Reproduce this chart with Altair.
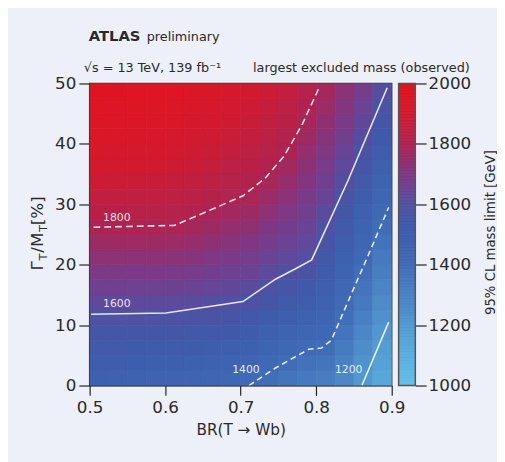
import altair as alt
import pandas as pd

# ---- heat-map cells: centres of BR columns and Gamma/M rows ----
br_centres = [0.5125, 0.5375, 0.5625, 0.5875, 0.6125, 0.6375, 0.6625, 0.6875,
              0.7125, 0.7375, 0.7625, 0.7875, 0.8125, 0.8375, 0.8625, 0.8875]
gamma_centres = [1.25, 3.75, 6.25, 8.75, 11.25, 13.75, 16.25, 18.75, 21.25, 23.75,
                 26.25, 28.75, 31.25, 33.75, 36.25, 38.75, 41.25, 43.75, 46.25, 48.75]
cell_w = 0.025
cell_h = 2.5

# mass limit [GeV] per BR column, bottom (Gamma=0) to top (Gamma=50)
m_0513 = [1484, 1511, 1539, 1566, 1594, 1627, 1662, 1697, 1731, 1766, 1801, 1829, 1857, 1886, 1910, 1929, 1949, 1963, 1974, 1985]
m_0538 = [1479, 1508, 1537, 1565, 1594, 1627, 1662, 1697, 1731, 1766, 1801, 1828, 1855, 1882, 1905, 1924, 1944, 1958, 1969, 1980]
m_0563 = [1475, 1504, 1534, 1563, 1592, 1626, 1660, 1695, 1730, 1765, 1799, 1825, 1851, 1877, 1900, 1919, 1939, 1953, 1964, 1975]
m_0588 = [1470, 1500, 1531, 1561, 1591, 1624, 1659, 1694, 1729, 1764, 1799, 1824, 1848, 1873, 1895, 1914, 1934, 1948, 1959, 1970]
m_0613 = [1466, 1497, 1528, 1559, 1590, 1624, 1658, 1693, 1727, 1762, 1797, 1821, 1845, 1868, 1890, 1909, 1929, 1943, 1954, 1965]
m_0638 = [1456, 1488, 1521, 1553, 1585, 1618, 1650, 1683, 1716, 1748, 1781, 1809, 1832, 1854, 1877, 1892, 1907, 1922, 1937, 1952]
m_0663 = [1442, 1476, 1510, 1544, 1578, 1610, 1641, 1672, 1702, 1733, 1764, 1794, 1817, 1839, 1860, 1879, 1894, 1909, 1923, 1938]
m_0688 = [1428, 1463, 1498, 1533, 1568, 1603, 1632, 1661, 1690, 1720, 1749, 1778, 1805, 1823, 1842, 1861, 1878, 1893, 1908, 1923]
m_0713 = [1412, 1448, 1484, 1519, 1553, 1588, 1619, 1648, 1677, 1705, 1735, 1764, 1792, 1812, 1828, 1843, 1859, 1875, 1891, 1907]
m_0738 = [1386, 1418, 1452, 1487, 1521, 1556, 1591, 1621, 1648, 1676, 1704, 1732, 1759, 1787, 1808, 1823, 1838, 1853, 1868, 1883]
m_0763 = [1357, 1390, 1425, 1461, 1496, 1532, 1568, 1602, 1627, 1651, 1676, 1700, 1725, 1750, 1774, 1799, 1814, 1828, 1843, 1857]
m_0788 = [1337, 1371, 1405, 1440, 1474, 1509, 1544, 1578, 1608, 1628, 1648, 1668, 1688, 1708, 1728, 1748, 1768, 1788, 1807, 1822]
m_0813 = [1323, 1358, 1393, 1421, 1447, 1474, 1500, 1526, 1552, 1579, 1604, 1623, 1643, 1662, 1682, 1702, 1721, 1741, 1760, 1780]
m_0838 = [1278, 1305, 1332, 1359, 1386, 1411, 1436, 1461, 1486, 1511, 1537, 1561, 1586, 1609, 1629, 1649, 1670, 1690, 1710, 1730]
m_0863 = [1205, 1232, 1258, 1284, 1310, 1337, 1363, 1389, 1414, 1439, 1464, 1489, 1513, 1538, 1563, 1588, 1611, 1634, 1656, 1679]
m_0888 = [1133, 1158, 1183, 1208, 1234, 1261, 1287, 1313, 1339, 1366, 1392, 1417, 1442, 1466, 1491, 1515, 1540, 1564, 1589, 1612]
mass_columns = [m_0513, m_0538, m_0563, m_0588, m_0613, m_0638, m_0663, m_0688,
                m_0713, m_0738, m_0763, m_0788, m_0813, m_0838, m_0863, m_0888]

# ---- contour lines ----
c1800_br = [0.505, 0.612, 0.659, 0.703, 0.733, 0.757, 0.781, 0.805]
c1800_g = [26.2, 26.5, 29.0, 31.4, 34.4, 37.9, 43.1, 49.6]
c1600_br = [0.502, 0.601, 0.703, 0.746, 0.772, 0.794, 0.842, 0.894]
c1600_g = [11.8, 12.0, 13.9, 17.6, 19.3, 20.8, 33.9, 49.3]
c1400_br = [0.711, 0.746, 0.790, 0.807, 0.820, 0.855, 0.8635, 0.896]
c1400_g = [0.0, 2.9, 6.0, 6.2, 7.5, 17.6, 20.0, 29.5]
c1200_br = [0.8605, 0.896]
c1200_g = [0.0, 10.5]

label_text = ["1800", "1600", "1400", "1200"]
label_br = [0.536, 0.536, 0.707, 0.843]
label_g = [27.8, 13.5, 2.6, 2.6]

# ---- colour scale ----
mass_stops = [1000, 1100, 1200, 1300, 1400, 1500, 1550, 1600, 1650, 1700, 1800, 1900, 2000]
mass_colours = ["#63c1ec", "#5aaedd", "#5399d2", "#4a82c4", "#406bb6", "#3d5fae", "#4258a8",
                "#4f51a3", "#6a4394", "#7e3885", "#ad2452", "#d11a30", "#e3131e"]
cbar_ticks = [1000, 1200, 1400, 1600, 1800, 2000]
x_ticks = [0.5, 0.6, 0.7, 0.8, 0.9]
y_ticks = [0, 10, 20, 30, 40, 50]

FONT = "DejaVu Sans"
TXT = "#2a2a2a"

rows = []
for i, c in enumerate(br_centres):
    for j, g in enumerate(gamma_centres):
        rows.append({"x0": c - cell_w / 2, "x1": c + cell_w / 2,
                     "y0": g - cell_h / 2, "y1": g + cell_h / 2,
                     "mass": mass_columns[i][j]})
cells = pd.DataFrame(rows)

cscale = alt.Scale(domain=mass_stops, range=mass_colours, interpolate="rgb")
xscale = alt.Scale(domain=[0.5, 0.9], nice=False, zero=False)
yscale = alt.Scale(domain=[0, 50], nice=False, zero=False)
xaxis = alt.Axis(values=x_ticks, format=".1f", title="BR(T → Wb)", tickSize=10,
                 labelPadding=4, labelFlush=False, titleY=50, titleBaseline="alphabetic",
                 titleFontSize=15.5, titleFontWeight="normal", grid=False)
yaxis = alt.Axis(values=y_ticks, format="d", title=None, tickSize=11, labelPadding=3, grid=False)


def X(f):
    return alt.X(f, scale=xscale, axis=xaxis)


def Y(f):
    return alt.Y(f, scale=yscale, axis=yaxis)


heat = alt.Chart(cells).mark_rect(strokeWidth=0.8, clip=True).encode(
    x=X("x0:Q"), x2="x1:Q", y=Y("y0:Q"), y2="y1:Q",
    color=alt.Color("mass:Q", scale=cscale, legend=None),
    stroke=alt.Stroke("mass:Q", scale=cscale, legend=None),
)


def contour(brs, gs, dash):
    df = pd.DataFrame({"x0": brs, "y0": gs, "o": list(range(len(brs)))})
    kw = dict(color="white", strokeWidth=1.6, opacity=0.85, clip=True)
    if dash:
        kw["strokeDash"] = dash
    return alt.Chart(df).mark_line(**kw).encode(x=X("x0:Q"), y=Y("y0:Q"), order="o:O")


lines = [
    contour(c1800_br, c1800_g, [7, 4]),
    contour(c1600_br, c1600_g, None),
    contour(c1400_br, c1400_g, [6, 4]),
    contour(c1200_br, c1200_g, None),
]

labels = alt.Chart(pd.DataFrame({"x0": label_br, "y0": label_g, "t": label_text})).mark_text(
    font=FONT, fontSize=11, color="white", opacity=0.85, align="center", baseline="middle"
).encode(x=X("x0:Q"), y=Y("y0:Q"), text="t:N")


def deco(text, x, y, size, weight="normal", angle=0, align="left"):
    return alt.Chart(pd.DataFrame({"t": [text]})).mark_text(
        font=FONT, fontSize=size, fontWeight=weight, color=TXT, align=align,
        baseline="alphabetic", angle=angle
    ).encode(x=alt.value(x), y=alt.value(y), text="t:N")


texts = [
    deco("ATLAS", -1, -43, 15, "bold"),
    deco("preliminary", 58, -43, 13),
    deco("√s = 13 TeV, 139 fb⁻¹", -6, -12, 13),
    deco("largest excluded mass (observed)", 166, -12, 13),
    # y-axis title  Γ_T / M_T [%]
    deco("Γ", -47, 190, 17, angle=270),
    deco("T", -43, 180, 11.5, angle=270),
    deco("/M", -47, 172, 17, angle=270),
    deco("T", -43, 151, 11.5, angle=270),
    deco(" [%]", -47, 144, 17, angle=270),
]

main = alt.layer(heat, *lines, labels, *texts)

levels = list(range(1000, 2000, 5))
cb_df = pd.DataFrame({"lo": levels, "hi": [v + 5 for v in levels], "mid": [v + 2.5 for v in levels]})
cb_scale = alt.Scale(domain=[1000, 2000], nice=False, zero=False)
cb_axis = alt.Axis(orient="right", offset=24, values=cbar_ticks, format="d", tickSize=11, labelPadding=2,
                   domain=False, grid=False, title="95% CL mass limit [GeV]", titleAngle=270,
                   titleFontSize=13.5, titleFontWeight="normal", titleX=80, titleY=151,
                   titleAlign="center", titleBaseline="alphabetic")
cb_fill = alt.Chart(cb_df).mark_rect(strokeWidth=0.8).encode(
    x=alt.value(314), x2=alt.value(331),
    y=alt.Y("lo:Q", scale=cb_scale, axis=cb_axis), y2="hi:Q",
    color=alt.Color("mid:Q", scale=cscale, legend=None),
    stroke=alt.Stroke("mid:Q", scale=cscale, legend=None),
)
cb_frame = alt.Chart(pd.DataFrame({"lo": [1000], "hi": [2000]})).mark_rect(
    fillOpacity=0, stroke="#555555", strokeWidth=1.5
).encode(x=alt.value(314), x2=alt.value(331),
         y=alt.Y("lo:Q", scale=cb_scale, axis=cb_axis), y2="hi:Q")
cbar = alt.layer(cb_fill, cb_frame)

chart = alt.layer(main, cbar).resolve_scale(y="independent").properties(
    width=307, height=307,
    autosize=alt.AutoSizeParams(type="none"),
    padding={"left": 83, "top": 73, "right": 107, "bottom": 74},
).configure(background="#edf0f8").configure_view(
    stroke="#3c3c3c", strokeWidth=1.5
).configure_axis(
    labelFont=FONT, labelFontSize=17, labelColor=TXT, titleFont=FONT, titleColor=TXT,
    tickColor="#222222", tickWidth=1.2, domainColor="#333333", domainWidth=1.2,
)

chart.save("out.html", embed_options={"renderer": "svg", "actions": False})
